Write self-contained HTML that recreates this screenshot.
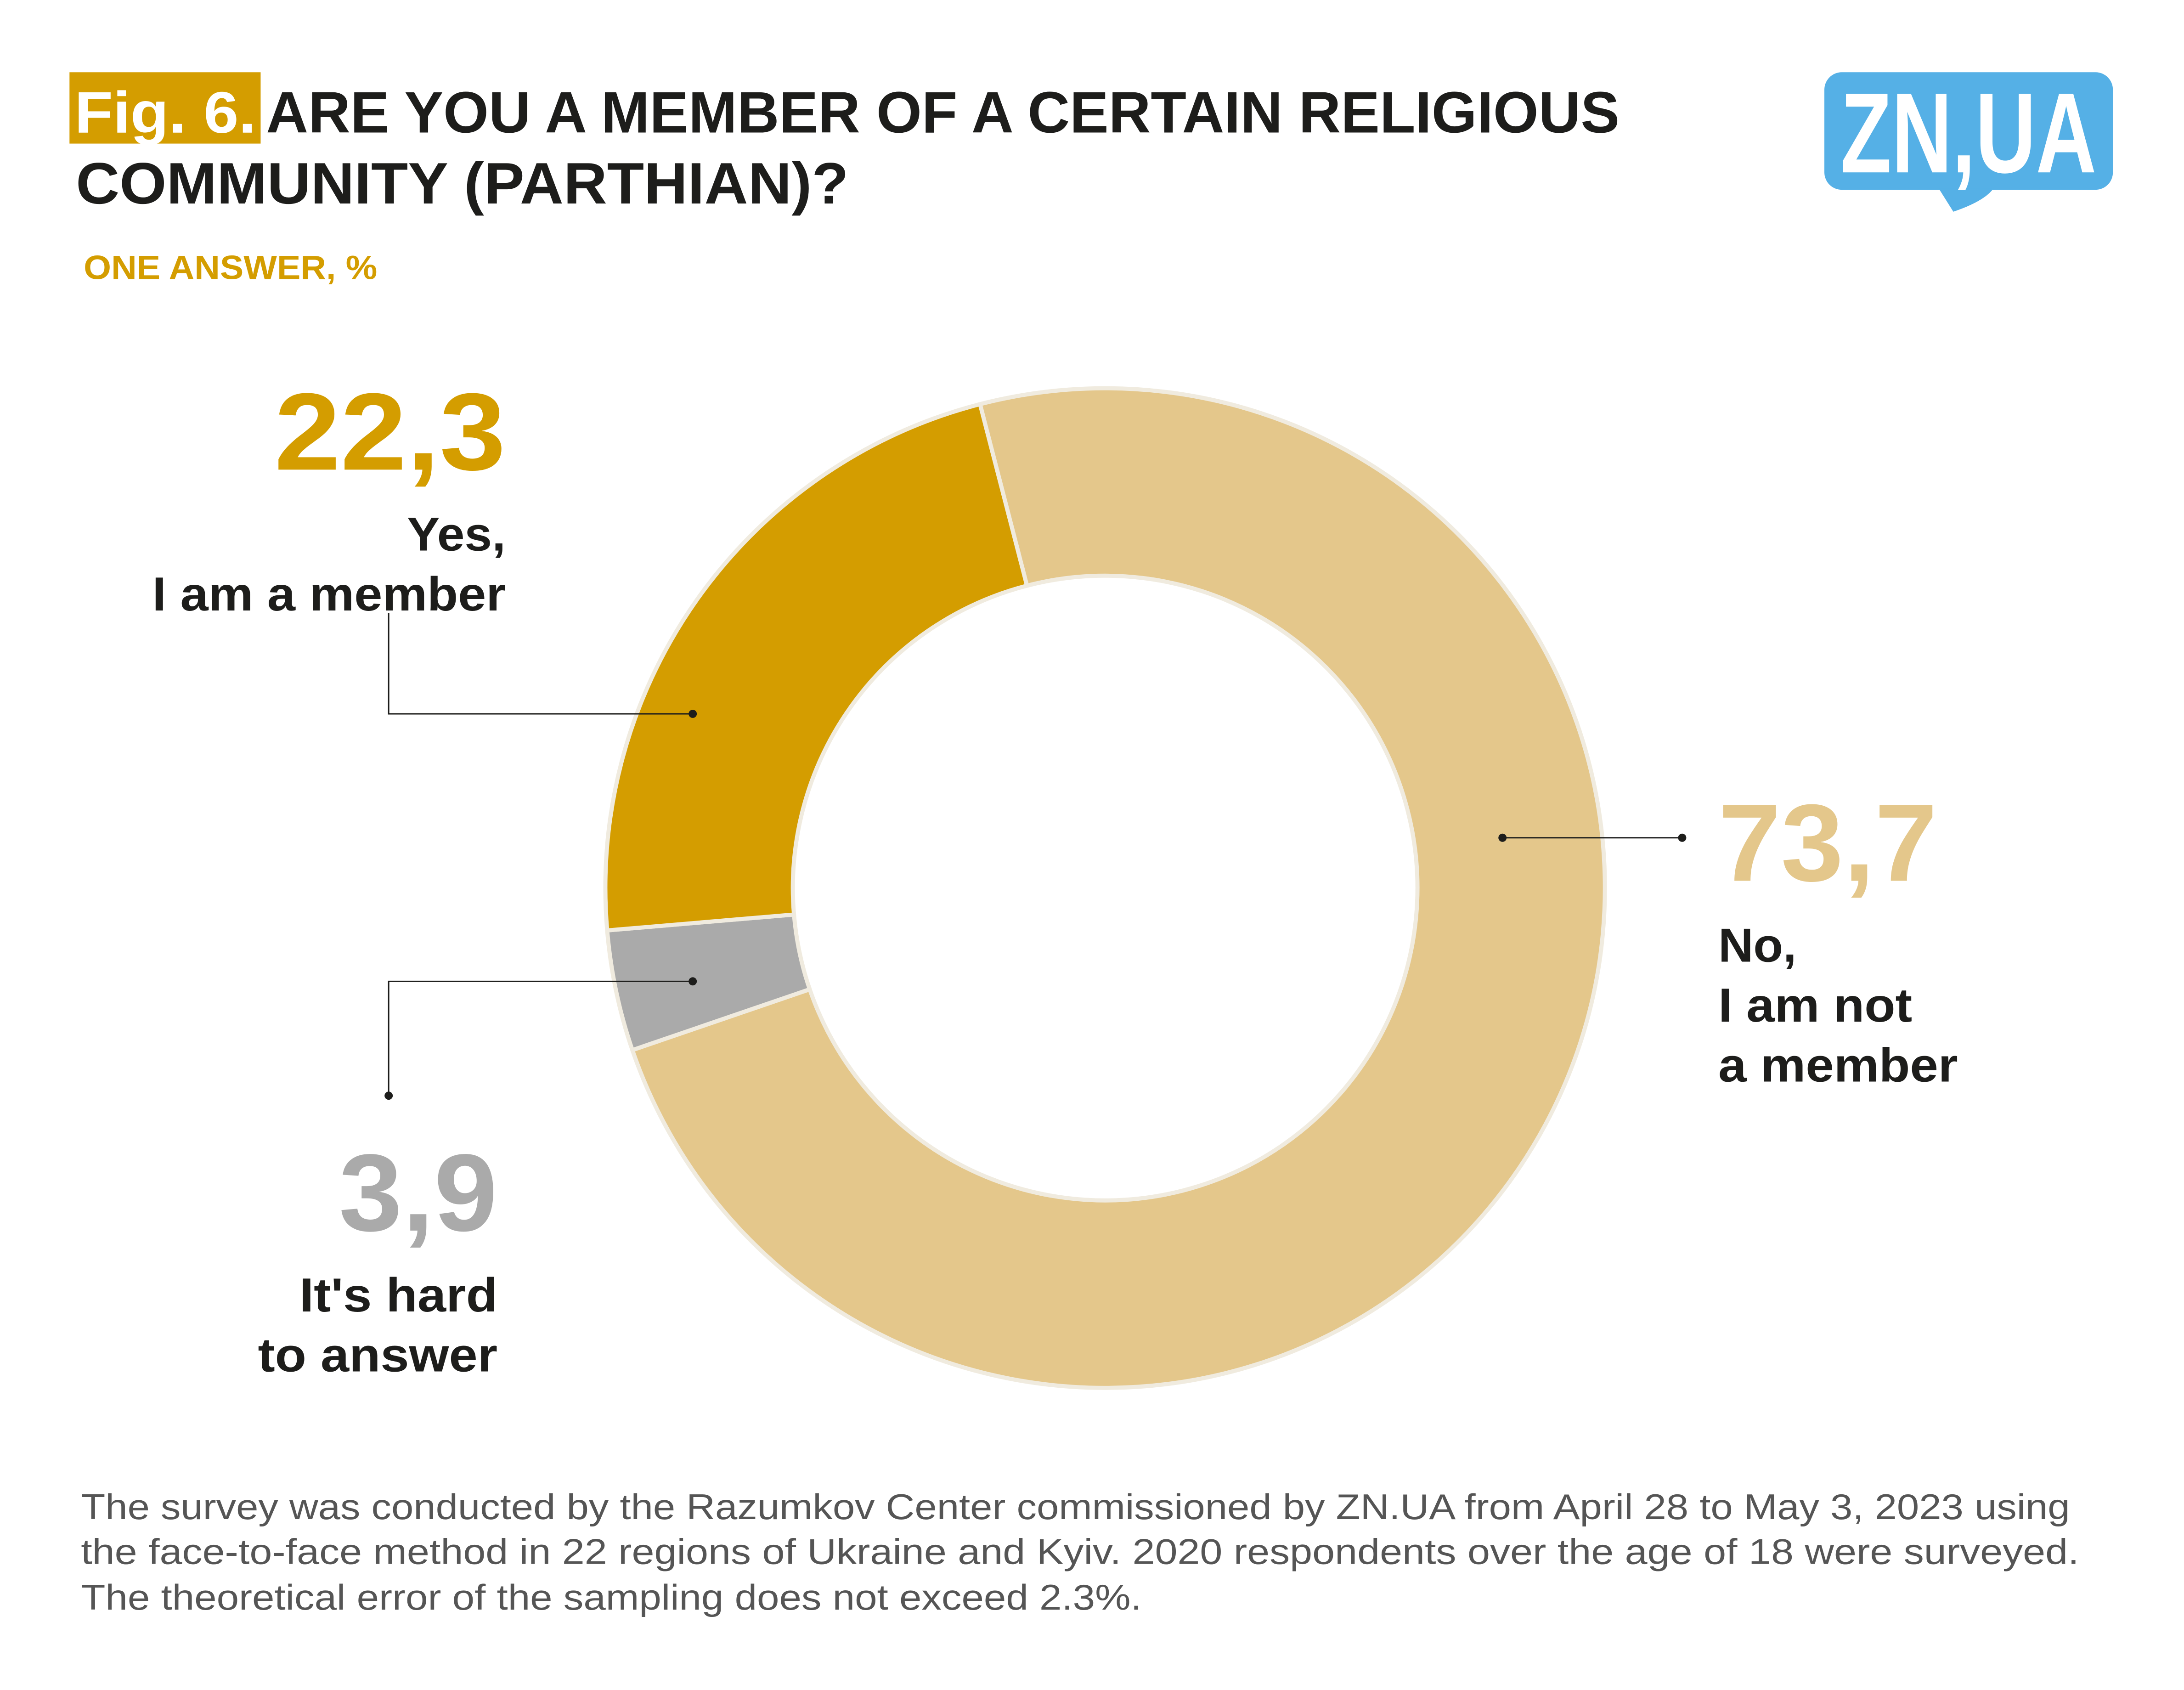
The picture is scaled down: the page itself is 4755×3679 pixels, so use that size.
<!DOCTYPE html>
<html><head><meta charset="utf-8"><style>
html,body{margin:0;padding:0;background:#fff;}
svg{display:block;}
text{font-family:"Liberation Sans",sans-serif;}
</style></head><body>
<svg id="chart" width="4755" height="3679" viewBox="0 0 4755 3679" xmlns="http://www.w3.org/2000/svg">
<rect width="4755" height="3679" fill="#fff"/>
<g transform="scale(0.9955)">
<rect x="152" y="158" width="418" height="156" fill="#d49d00"/>
<text x="163" y="290" font-size="128" font-weight="bold" fill="#fff" textLength="397" lengthAdjust="spacingAndGlyphs">Fig. 6.</text>
<text x="582" y="290" font-size="128" font-weight="bold" fill="#1d1d1b" textLength="2960" lengthAdjust="spacingAndGlyphs">ARE YOU A MEMBER OF A CERTAIN RELIGIOUS</text>
<text x="166" y="445" font-size="128" font-weight="bold" fill="#1d1d1b" textLength="1690" lengthAdjust="spacingAndGlyphs">COMMUNITY (PARTHIAN)?</text>
<text x="183" y="610" font-size="74" font-weight="bold" fill="#d49d00" textLength="642" lengthAdjust="spacingAndGlyphs">ONE ANSWER, %</text>
<g>
<rect x="3990" y="158" width="631" height="257" rx="38" fill="#55b0e6"/>
<path d="M4240 412 L4272 463 Q4340 440 4360 412 Z" fill="#55b0e6"/>
<text x="4025" y="377" font-size="250" font-weight="bold" fill="#fff" textLength="560" lengthAdjust="spacingAndGlyphs">ZN,UA</text>
</g>
<g id="donut"></g>
<g>
<polyline points="850,1341 850,1561 1515,1561" fill="none" stroke="#1d1d1b" stroke-width="3"/>
<circle cx="1515" cy="1561" r="9" fill="#1d1d1b"/>
<polyline points="1515,2146 850,2146 850,2396" fill="none" stroke="#1d1d1b" stroke-width="3"/>
<circle cx="1515" cy="2146" r="9" fill="#1d1d1b"/>
<circle cx="850" cy="2396" r="9" fill="#1d1d1b"/>
<line x1="3286" y1="1832" x2="3679" y2="1832" stroke="#1d1d1b" stroke-width="3"/>
<circle cx="3286" cy="1832" r="9" fill="#1d1d1b"/>
<circle cx="3679" cy="1832" r="9" fill="#1d1d1b"/>
</g>
<g id="labels"></g>
<g font-size="78" fill="#555">
<text x="177" y="3322" textLength="4350" lengthAdjust="spacingAndGlyphs">The survey was conducted by the Razumkov Center commissioned by ZN.UA from April 28 to May 3, 2023 using</text>
<text x="177" y="3420" textLength="4370" lengthAdjust="spacingAndGlyphs">the face-to-face method in 22 regions of Ukraine and Kyiv. 2020 respondents over the age of 18 were surveyed.</text>
<text x="177" y="3520" textLength="2320" lengthAdjust="spacingAndGlyphs">The theoretical error of the sampling does not exceed 2.3%.</text>
</g>
</g>
</svg>
<script>
const categories = ["No, I am not a member", "It's hard to answer", "Yes, I am a member"];
const values = [73.7, 3.9, 22.3];
const valueLabels = ["73,7", "3,9", "22,3"];
const colors = ["#e4c78b", "#aaaaaa", "#d49d00"];

const NS = "http://www.w3.org/2000/svg";
const cx = 2417, cy = 1942, R = 1093, r = 683, startDeg = -14.5;
const total = values.reduce((a, b) => a + b, 0);
function angle(v) { return (startDeg + v / total * 360) * Math.PI / 180; }
function pt(rad, a) { return [cx + rad * Math.sin(a), cy - rad * Math.cos(a)]; }
const donut = document.getElementById('donut');
let acc = 0;
values.forEach((v, i) => {
  const a0 = angle(acc), a1 = angle(acc + v);
  acc += v;
  const large = (a1 - a0) > Math.PI ? 1 : 0;
  const p0 = pt(R, a0), p1 = pt(R, a1), q1 = pt(r, a1), q0 = pt(r, a0);
  const d = `M${p0[0]},${p0[1]} A${R},${R} 0 ${large} 1 ${p1[0]},${p1[1]} L${q1[0]},${q1[1]} A${r},${r} 0 ${large} 0 ${q0[0]},${q0[1]} Z`;
  const path = document.createElementNS(NS, 'path');
  path.setAttribute('d', d);
  path.setAttribute('fill', colors[i]);
  path.setAttribute('stroke', '#f0ebdf');
  path.setAttribute('stroke-width', '9');
  
  
  donut.appendChild(path);
});

const labels = document.getElementById('labels');
const specs = [
  {x: 3758, anchor: 'start', vy: 1926, vw: 479, lines: ["No,", "I am not", "a member"], lw: [171, 424, 524], ly: [2103, 2234, 2365]},
  {x: 1088, anchor: 'end', vy: 2691, vw: 347, lines: ["It's hard", "to answer"], lw: [433, 524], ly: [2868, 2999]},
  {x: 1106, anchor: 'end', vy: 1027, vw: 506, lines: ["Yes,", "I am a member"], lw: [216, 773], ly: [1204, 1335]}
];
specs.forEach((s, i) => {
  const t = document.createElementNS(NS, 'text');
  t.setAttribute('x', s.x); t.setAttribute('y', s.vy);
  t.setAttribute('text-anchor', s.anchor);
  t.setAttribute('font-size', '240'); t.setAttribute('font-weight', 'bold');
  t.setAttribute('fill', colors[i]);
  t.setAttribute('textLength', s.vw);
  t.setAttribute('lengthAdjust', 'spacingAndGlyphs');
  t.textContent = valueLabels[i];
  
  
  labels.appendChild(t);
  s.lines.forEach((ln, j) => {
    const c = document.createElementNS(NS, 'text');
    c.setAttribute('x', s.x); c.setAttribute('y', s.ly[j]);
    c.setAttribute('text-anchor', s.anchor);
    c.setAttribute('font-size', '104'); c.setAttribute('font-weight', 'bold');
    c.setAttribute('fill', '#1d1d1b');
    c.setAttribute('textLength', s.lw[j]);
    c.setAttribute('lengthAdjust', 'spacingAndGlyphs');
    c.textContent = ln;
    
    
    labels.appendChild(c);
  });
});
</script>
</body></html>
